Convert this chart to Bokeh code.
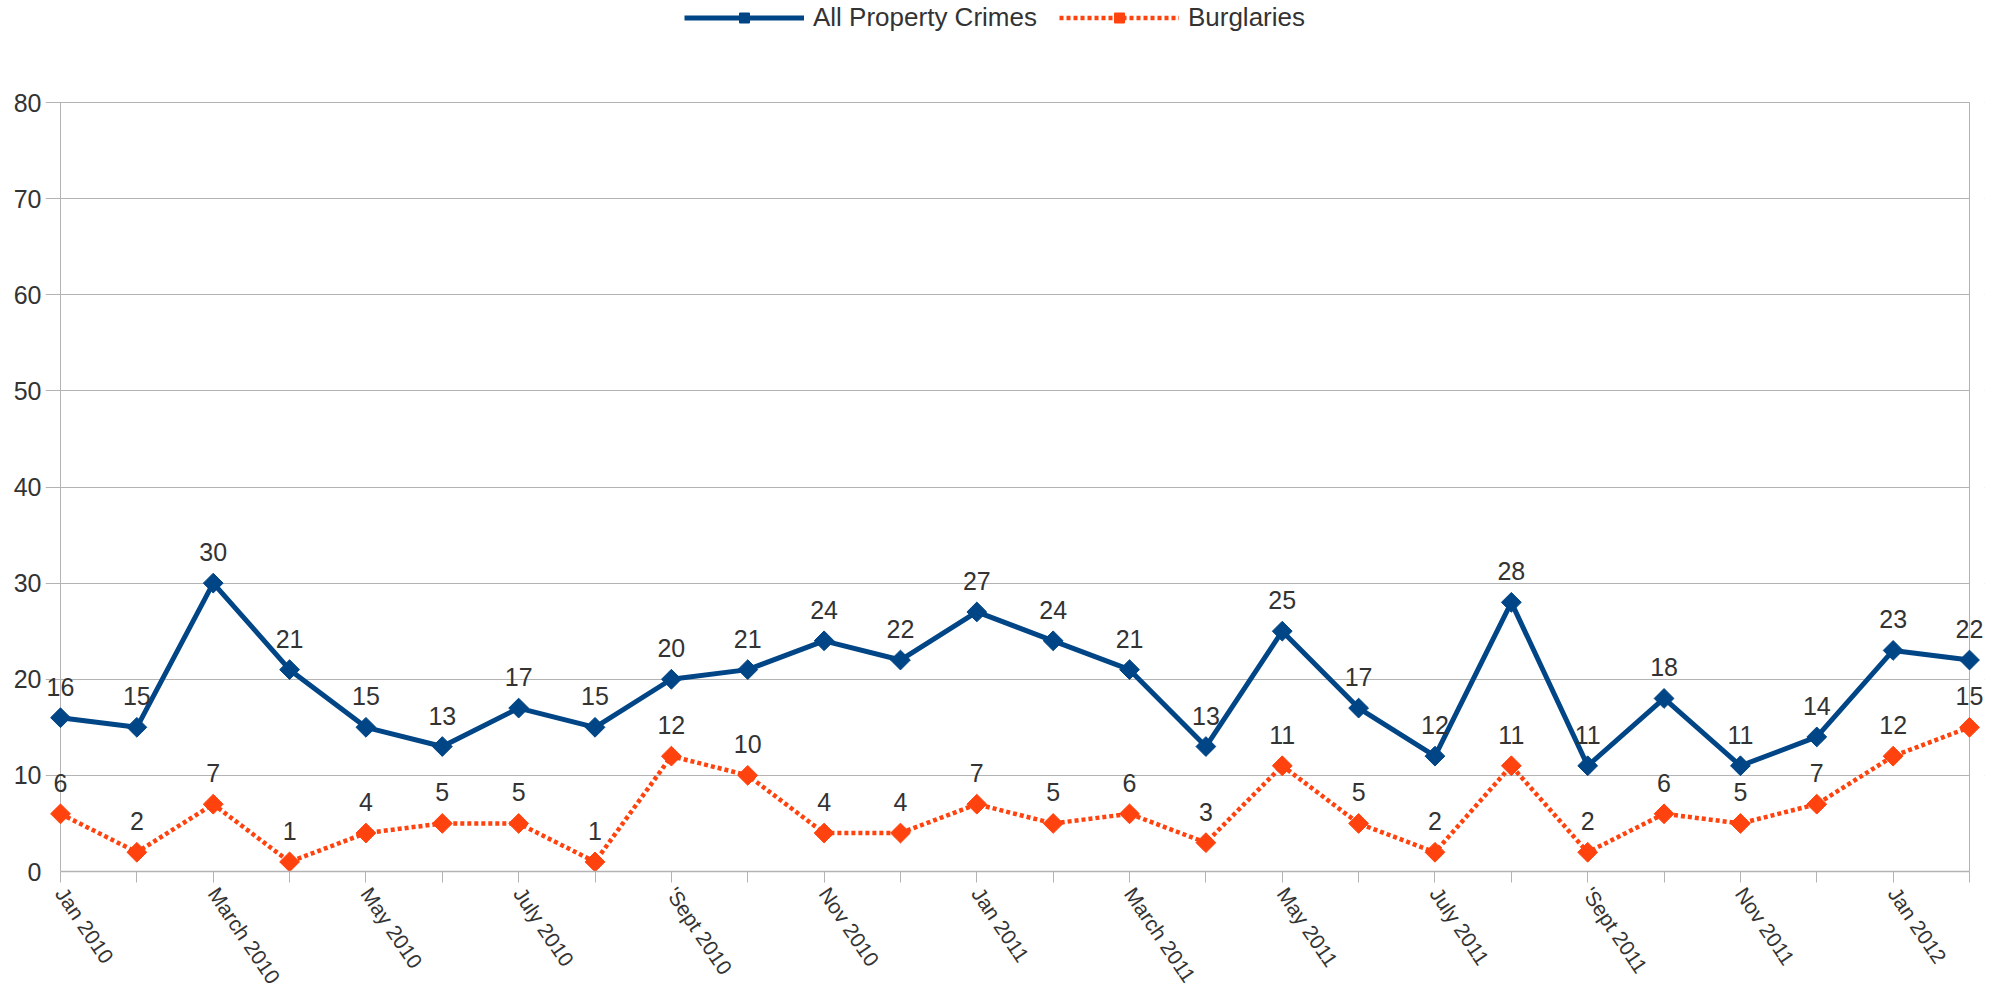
import math
from bokeh.plotting import figure
from bokeh.models import (ColumnDataSource, LabelSet, Legend, LegendItem,
                          FixedTicker, Range1d, BoxAnnotation)
from bokeh.core.properties import value
from bokeh.embed import file_html
from bokeh.resources import INLINE

months = ["Jan 2010", "Feb 2010", "March 2010", "Apr 2010", "May 2010", "June 2010",
          "July 2010", "Aug 2010", "'Sept 2010", "Oct 2010", "Nov 2010", "Dec 2010",
          "Jan 2011", "Feb 2011", "March 2011", "Apr 2011", "May 2011", "June 2011",
          "July 2011", "Aug 2011", "'Sept 2011", "Oct 2011", "Nov 2011", "Dec 2011",
          "Jan 2012", "Feb 2012"]
shown_labels = {"Jan 2010", "March 2010", "May 2010", "July 2010", "'Sept 2010",
                "Nov 2010", "Jan 2011", "March 2011", "May 2011", "July 2011",
                "'Sept 2011", "Nov 2011", "Jan 2012"}
all_property = [16, 15, 30, 21, 15, 13, 17, 15, 20, 21, 24, 22, 27, 24, 21, 13,
                25, 17, 12, 28, 11, 18, 11, 14, 23, 22]
burglaries = [6, 2, 7, 1, 4, 5, 5, 1, 12, 10, 4, 4, 7, 5, 6, 3, 11, 5, 2, 11,
              2, 6, 5, 7, 12, 15]
y_ticks = [0, 10, 20, 30, 40, 50, 60, 70, 80]

BLUE = "#004586"
ORANGE = "#ff420e"
TEXT = "#333333"
GRID = "#b3b3b3"
FONT = "Liberation Sans"

xs = list(range(len(months)))
n_last = len(months) - 1
y_max = y_ticks[-1]
src = ColumnDataSource(dict(
    x=xs, a=all_property, b=burglaries,
    at=[str(v) for v in all_property], bt=[str(v) for v in burglaries]))

# layout in pixels
DATA_W = 1909          # width of the plotting area (first to last month)
PAD_PX = 15            # extra frame room each side so end labels are not clipped
DATA_H = 769           # height of the plotting area (0 .. 80)
TOP_PX = 102           # room above the plotting area (legend lives there)
pad = PAD_PX * n_last / DATA_W
y_top = y_max + TOP_PX * y_max / DATA_H

p = figure(frame_width=DATA_W + 2 * PAD_PX, frame_height=DATA_H + TOP_PX,
           output_backend="svg", toolbar_location=None,
           x_range=Range1d(-pad, n_last + pad), y_range=Range1d(0, y_top),
           min_border_left=45, min_border_right=10, min_border_top=0,
           min_border_bottom=0)
p.background_fill_color = "white"
p.border_fill_color = "white"
p.outline_line_color = None

p.xgrid.grid_line_color = None
p.ygrid.grid_line_color = GRID
p.ygrid.grid_line_width = 1
p.ygrid.ticker = FixedTicker(ticks=y_ticks)

# hide the grid overhang right of the last month, then outline the plot area
p.add_layout(BoxAnnotation(left=n_last, fill_color="white", fill_alpha=1,
                           line_color=None, line_alpha=0, level="underlay"))
p.add_layout(BoxAnnotation(left=0, right=n_last, bottom=0, top=y_max,
                           fill_alpha=0, line_color=GRID, line_alpha=1,
                           line_width=1, level="underlay"))

l1 = p.line("x", "a", source=src, line_color=BLUE, line_width=5)
m1 = p.scatter("x", "a", source=src, marker="square", angle=math.pi / 4, size=14,
               fill_color=BLUE, line_color=BLUE)
l2 = p.line("x", "b", source=src, line_color=ORANGE, line_width=4.5,
            line_dash="4 3")
m2 = p.scatter("x", "b", source=src, marker="square", angle=math.pi / 4, size=14,
               fill_color=ORANGE, line_color=ORANGE)

for col in ("at", "bt"):
    p.add_layout(LabelSet(x="x", y=col[0], text=col, source=src, y_offset=22,
                          text_align="center", text_baseline="alphabetic",
                          text_font=value(FONT), text_font_size=value("25px"),
                          text_color=value(TEXT)))

# y axis: labels only; the gridline overhang on the left acts as tick marks
p.yaxis.ticker = FixedTicker(ticks=y_ticks)
p.yaxis.major_label_text_font = FONT
p.yaxis.major_label_text_font_size = "25px"
p.yaxis.major_label_text_color = TEXT
p.yaxis.major_tick_out = 0
p.yaxis.major_tick_in = 0
p.yaxis.minor_tick_out = 0
p.yaxis.minor_tick_in = 0
p.yaxis.major_label_standoff = 4
p.yaxis.axis_line_color = None
p.yaxis.major_tick_line_color = None

p.xaxis.ticker = FixedTicker(ticks=xs)
p.xaxis.bounds = (0, n_last)
p.xaxis.major_label_overrides = {i: (m if m in shown_labels else "")
                                 for i, m in enumerate(months)}
p.xaxis.major_label_orientation = -math.radians(56)
p.xaxis.major_label_text_font = FONT
p.xaxis.major_label_text_font_size = "21px"
p.xaxis.major_label_text_color = TEXT
p.xaxis.major_tick_out = 11
p.xaxis.major_tick_in = 0
p.xaxis.minor_tick_out = 0
p.xaxis.minor_tick_in = 0
p.xaxis.major_label_standoff = 7
p.xaxis.axis_line_color = GRID
p.xaxis.axis_line_width = 1.5
p.xaxis.major_tick_line_color = GRID

legend = Legend(items=[LegendItem(label="All Property Crimes", renderers=[l1, m1]),
                       LegendItem(label="Burglaries", renderers=[l2, m2])],
                orientation="horizontal", location=(639, 838),
                glyph_width=120, glyph_height=25, label_standoff=9, spacing=22,
                label_text_font=FONT, label_text_font_size="26px",
                label_text_color=TEXT, border_line_color=None,
                background_fill_alpha=0, padding=2, margin=0)
p.add_layout(legend, "center")

open("out.html", "w").write(file_html(p, INLINE))
